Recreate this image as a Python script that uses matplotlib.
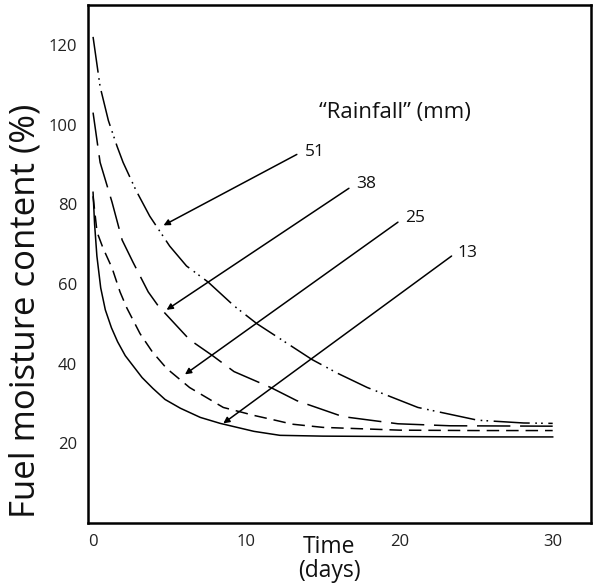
import matplotlib
matplotlib.use("Agg")
import matplotlib.pyplot as plt

plt.rcParams['font.family'] = ['Open Sans', 'DejaVu Sans']
plt.rcParams['lines.scale_dashes'] = False

# curves: (days, fuel moisture %)
days_51 = [0, 0.46, 1.0, 1.57, 1.96, 2.8, 3.7, 5.0, 6.1, 7.5, 9.2, 10.7, 12.5, 14.3, 16, 17.9, 21.2, 25.1, 28.1, 30]
fmc_51 = [122, 109.5, 101, 94.5, 90.5, 83.5, 77, 69.5, 64.5, 60.5, 54.5, 50, 45.5, 41, 37.5, 34, 29, 25.8, 25.1, 25.0]

days_38 = [0, 0.46, 1.24, 1.9, 2.6, 3.6, 4.25, 6.3, 7.8, 9.2, 11.6, 13.3, 16.3, 19.9, 23.3, 30]
fmc_38 = [103, 90.5, 80.5, 71, 65.5, 58, 54.5, 46, 42, 38, 34, 30.7, 26.7, 24.9, 24.4, 24.3]

days_25 = [0, 0.26, 0.65, 1.24, 1.76, 2.2, 3.07, 3.86, 4.8, 6.3, 8.5, 10.5, 12, 13, 15, 20, 25, 30]
fmc_25 = [82, 73, 69, 64, 58, 54, 47.5, 43, 38.8, 34, 29, 27, 25.7, 24.8, 24, 23.3, 23.2, 23.2]

days_13 = [0, 0.1, 0.25, 0.5, 0.8, 1.2, 1.6, 2.1, 2.6, 3.2, 3.9, 4.7, 5.7, 7, 8.3, 10.5, 12.2, 15, 20, 25, 30]
fmc_13 = [83, 75, 67, 59, 53.5, 49, 45.5, 42, 39.5, 36.5, 33.8, 31, 28.8, 26.5, 25, 23, 22, 21.8, 21.7, 21.6, 21.6]

rain_labels = ["51", "38", "25", "13"]
x_ticks = [0, 10, 20, 30]
y_ticks = [20, 40, 60, 80, 100, 120]

fig = plt.figure(figsize=(5.93, 5.85), dpi=100)
ax = fig.add_axes([88/593, 1 - 523/585, (591-88)/593, (523-5)/585])

lw = 1.1
ax.plot(days_51, fmc_51, color='black', lw=lw, ls=(0, (26, 4, 1.2, 3, 1.2, 4)))
ax.plot(days_38, fmc_38, color='black', lw=lw, ls=(0, (24, 7)))
ax.plot(days_25, fmc_25, color='black', lw=lw, ls=(0, (9, 5)))
ax.plot(days_13, fmc_13, color='black', lw=lw, ls='-')

# pointer lines from the labels to the curves
tails = [(13.3, 92.5), (16.7, 84), (19.9, 75.5), (23.4, 67)]
heads = [(4.6, 74.7), (4.8, 53.5), (6.0, 37.3), (8.5, 25)]
text_pos = [(13.8, 93), (17.2, 85), (20.4, 76.5), (23.8, 67.8)]
for lab, t, h, p in zip(rain_labels, tails, heads, text_pos):
    ax.annotate("", xy=h, xytext=t,
                arrowprops=dict(arrowstyle='-|>', color='black', lw=1.1,
                                mutation_scale=9, shrinkA=0, shrinkB=0))
    ax.text(p[0], p[1], lab, fontsize=12.5, ha='left', va='center', color='#111111')

ax.text(19.7, 103, "\u201cRainfall\u201d (mm)", fontsize=16, ha='center', va='center',
        color='#111111')

ax.set_xlim(-0.33, 32.5)
ax.set_ylim(0, 130)
ax.set_xticks(x_ticks)
ax.set_yticks(y_ticks)
ax.tick_params(length=0, labelsize=12, pad=8, colors='#222222')
for s in ax.spines.values():
    s.set_linewidth(1.8)

fig.text(26/593, 1 - 311/585, "Fuel moisture content (%)", rotation=90,
         fontsize=25, ha='center', va='center', color='#111111')
fig.text(329/593, 1 - 559/585, "Time\n(days)", fontsize=16.5, ha='center',
         va='center', linespacing=1.0, color='#111111')

fig.savefig("out.png", dpi=100)
